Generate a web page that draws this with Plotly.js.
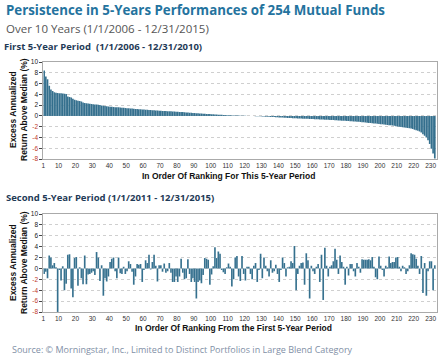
<!DOCTYPE html>
<html><head><meta charset="utf-8">
<script src="https://cdn.plot.ly/plotly-3.0.1.min.js"></script>
<style>html,body{margin:0;padding:0;background:#fff}#chart{width:446px;height:358px}</style>
</head><body><div id="chart"></div>
<script>
// Excess annualized return above median (%), funds ranked by first-period performance
const firstPeriod = [
 8.4, 7.3, 6.8, 5.6, 4.9, 4.6, 4.4, 4.3, 4.25, 4.2,
 4.2, 4.15, 4.1, 4.05, 3.6, 3.5, 3.4, 3.2, 3.0, 2.9,
 2.8, 2.75, 2.65, 2.5, 2.4, 2.35, 2.3, 2.25, 2.2, 2.15,
 2.1, 2.1, 2.05, 2.0, 1.95, 1.9, 1.85, 1.8, 1.75, 1.7,
 1.68, 1.65, 1.62, 1.6, 1.58, 1.55, 1.52, 1.5, 1.45, 1.42,
 1.4, 1.38, 1.35, 1.32, 1.3, 1.28, 1.25, 1.22, 1.2, 1.18,
 1.15, 1.12, 1.1, 1.08, 1.05, 1.03, 1.0, 0.98, 0.96, 0.95,
 0.93, 0.92, 0.9, 0.88, 0.86, 0.84, 0.82, 0.8, 0.78, 0.76,
 0.74, 0.72, 0.7, 0.67, 0.64, 0.62, 0.6, 0.57, 0.54, 0.52,
 0.5, 0.48, 0.46, 0.44, 0.42, 0.4, 0.37, 0.35, 0.33, 0.31,
 0.29, 0.27, 0.25, 0.23, 0.21, 0.19, 0.17, 0.15, 0.13, 0.11,
 0.1, 0.09, 0.08, 0.07, 0.06, 0.05, 0.04, 0.03, 0.02, 0.01,
 0.0, -0.01, -0.02, -0.03, -0.04, -0.05, -0.06, -0.07, -0.08, -0.1,
 -0.12, -0.14, -0.16, -0.18, -0.2, -0.21, -0.22, -0.24, -0.26, -0.28,
 -0.3, -0.31, -0.33, -0.35, -0.37, -0.38, -0.4, -0.42, -0.44, -0.46,
 -0.47, -0.48, -0.5, -0.51, -0.52, -0.54, -0.55, -0.57, -0.58, -0.6,
 -0.61, -0.62, -0.64, -0.65, -0.67, -0.68, -0.7, -0.71, -0.73, -0.74,
 -0.76, -0.78, -0.8, -0.82, -0.84, -0.86, -0.88, -0.9, -0.92, -0.94,
 -0.96, -0.98, -1.0, -1.02, -1.05, -1.08, -1.1, -1.13, -1.16, -1.2,
 -1.23, -1.26, -1.3, -1.33, -1.36, -1.4, -1.43, -1.46, -1.5, -1.53,
 -1.56, -1.6, -1.64, -1.68, -1.72, -1.76, -1.8, -1.85, -1.9, -1.95,
 -2.0, -2.05, -2.1, -2.15, -2.2, -2.25, -2.3, -2.35, -2.45, -2.55,
 -2.65, -2.75, -2.9, -3.1, -3.4, -3.7, -4.0, -4.5, -5.2, -6.1, -7.0, -7.9
];
const secondPeriod = [
 -1.0, -0.6, -1.8, 2.4, 2.0, 0.6, 1.0, 0.2, -8.0, -0.3,
 -2.2, 0.4, -4.0, -2.8, 2.5, 2.6, -3.7, -5.3, 1.9, 2.1,
 -3.2, 0.2, -1.8, -2.9, 2.4, -2.9, -1.1, -1.0, -0.8, -0.5,
 -1.2, 3.0, 2.0, -2.3, 0.6, -5.0, -1.8, -2.4, -1.5, 1.2,
 1.8, 2.0, -0.5, -1.8, 2.0, -0.9, -1.0, 0.3, -1.0, -0.5,
 1.3, 0.8, -0.6, -3.0, -1.5, 0.8, 0.7, 0.8, -2.5, -0.3,
 1.5, 1.0, 2.5, -0.2, 1.2, 2.5, 0.5, -2.4, 0.6, 0.6,
 -0.6, 0.9, -0.8, -0.5, 1.0, -0.8, -2.5, -2.5, -1.5, -2.5,
 -1.5, 1.8, -0.8, -2.0, -1.8, 1.7, -1.0, -2.5, -1.8, -2.5,
 -5.5, -2.5, -2.2, -2.7, -1.2, 1.9, 1.8, 1.6, -3.0, -1.1,
 0.4, 3.9, 1.9, 3.1, 2.7, -0.3, -0.7, -1.0, 0.2, 0.9,
 0.3, -3.3, -2.0, 2.0, 2.3, -1.5, -2.3, 2.3, -1.0, -2.2,
 0.3, 0.3, -1.0, -2.0, 0.5, 1.0, -2.5, -0.3, 2.7, -1.8,
 2.0, 0.5, -0.5, -1.5, 1.5, -0.8, -0.5, 0.7, -1.0, -2.5,
 -0.3, 2.0, 1.0, -1.5, 0.2, 0.3, 1.3, 1.0, 4.1, -4.0,
 -1.0, 0.5, 1.0, 1.1, -3.0, 2.8, 1.5, -5.5, 0.5, -0.5,
 -1.0, 0.3, 0.8, -2.5, 2.5, -5.8, 3.8, 0.5, -1.5, 0.3,
 0.6, 1.3, 3.6, 1.6, -1.0, 2.4, 1.2, 0.3, -3.0, 0.3,
 -1.3, 0.8, 0.8, -0.5, -1.5, 1.0, 0.3, -0.8, 1.7, 1.6,
 1.6, 1.6, 1.7, 1.5, 2.1, 0.3, -1.6, -2.0, 2.2, 0.5,
 -0.3, -1.5, 0.5, 0.2, 2.2, 1.0, 1.2, 1.2, 2.0, 2.1,
 0.3, -0.5, 0.5, 0.2, -1.0, -0.5, 0.6, 2.8, 2.6, 2.5,
 1.8, 0.5, -1.0, 2.3, -4.5, 1.0, -5.0, -0.5, 1.3, 1.3,
 -4.0, 0.6
];
const ranks = firstPeriod.map((_, i) => i + 1);
const xTickVals = [1,10,20,30,40,50,60,70,80,90,100,110,120,130,140,150,160,170,180,190,200,210,220,230];
const xTickText = xTickVals.map(String);
const yTickVals = [10,8,6,4,2,0,-2,-4,-6,-8];
const yTickText = yTickVals.map(v => v < 0 ? '<span style="fill:#c0392b">' + v + '</span>' : String(v));

const W = 446, H = 358;
const px = x => x / W, py = y => 1 - y / H;
const barColor = '#2f6c8b';
const fontArial = 'Liberation Sans, Arial, sans-serif';
const fontOpen = 'Open Sans, sans-serif';

function xAxis(anchor) {
  return {
    domain: [px(43.3), px(437)], range: [1, 233.8], anchor: anchor,
    tickvals: xTickVals, ticktext: xTickText, tickmode: 'array',
    tickfont: {family: fontArial, size: 6.5, color: '#333'},
    ticks: '', showline: true, linecolor: '#aaa', linewidth: 1, mirror: true,
    showgrid: false, zeroline: false, fixedrange: true
  };
}
function yAxis(anchor, top, bottom) {
  return {
    domain: [py(bottom), py(top)], range: [-8, 10], anchor: anchor,
    tickvals: yTickVals, ticktext: yTickText, tickmode: 'array',
    tickfont: {family: fontArial, size: 6.5, color: '#222'},
    ticks: 'outside', ticklen: 3, tickcolor: '#444', tickwidth: 1,
    showline: true, linecolor: '#aaa', linewidth: 1, mirror: true,
    showgrid: true, gridcolor: '#cfcfcf', griddash: 'dot', gridwidth: 1,
    zeroline: false, fixedrange: true
  };
}

const traces = [
  {type: 'bar', x: ranks, y: firstPeriod, xaxis: 'x', yaxis: 'y', offset: 0, width: 1,
   marker: {color: barColor, line: {color: 'rgba(255,255,255,0.25)', width: 0.3}}, hoverinfo: 'skip'},
  {type: 'bar', x: ranks, y: secondPeriod, xaxis: 'x2', yaxis: 'y2', offset: 0, width: 1,
   marker: {color: barColor, line: {color: 'rgba(255,255,255,0.35)', width: 0.3}}, hoverinfo: 'skip'}
];

function ann(text, x, y, size, color, opts) {
  return Object.assign({text: text, xref: 'paper', yref: 'paper', x: px(x), y: py(y),
    xanchor: 'left', yanchor: 'middle', showarrow: false, borderpad: 0,
    font: {family: fontArial, size: size, color: color}}, opts || {});
}

const yTitle = 'Excess Annualized<br>Return Above Median (%)';
const layout = {
  width: W, height: H, margin: {l: 0, r: 0, t: 0, b: 0},
  paper_bgcolor: '#fff', plot_bgcolor: '#fff', showlegend: false, bargap: 0,
  xaxis: xAxis('y'), yaxis: yAxis('x', 62, 159),
  xaxis2: xAxis('y2'), yaxis2: yAxis('x2', 214, 312),
  annotations: [
    ann('<b>Persistence in 5-Years Performances of 254 Mutual Funds</b>', 5, 10, 13.3, '#24739e', {font: {family: fontOpen, size: 13.3, color: '#24739e'}}),
    ann('Over 10 Years (1/1/2006 - 12/31/2015)', 5, 28, 11.5, '#555', {font: {family: fontOpen, size: 11.5, color: '#555'}}),
    ann('<b>First 5-Year Period  (1/1/2006 - 12/31/2010)</b>', 3, 46.5, 9.5, '#1f3b57', {font: {family: fontOpen, size: 9.5, color: '#1f3b57'}}),
    ann('<b>Second 5-Year Period (1/1/2011 - 12/31/2015)</b>', 5, 197, 9.5, '#1f3b57', {font: {family: fontOpen, size: 9.5, color: '#1f3b57'}}),
    ann('<b>' + yTitle + '</b>', 18, 110, 8.5, '#111', {xanchor: 'center', textangle: -90}),
    ann('<b>' + yTitle + '</b>', 18, 263, 8.5, '#111', {xanchor: 'center', textangle: -90}),
    ann('<b>In Order Of Ranking For This 5-Year Period</b>', 228, 176.5, 8.5, '#111', {xanchor: 'center'}),
    ann('<b>In Order Of Ranking From the First 5-Year Period</b>', 234, 328, 8.5, '#111', {xanchor: 'center'}),
    ann('Source: © Morningstar, Inc., Limited to Distinct Portfolios in Large Blend Category', 11, 349, 9, '#7f8fa6', {font: {family: fontOpen, size: 9, color: '#7f8fa6'}})
  ]
};

Plotly.newPlot('chart', traces, layout, {staticPlot: true, displayModeBar: false});
</script>
</body></html>
